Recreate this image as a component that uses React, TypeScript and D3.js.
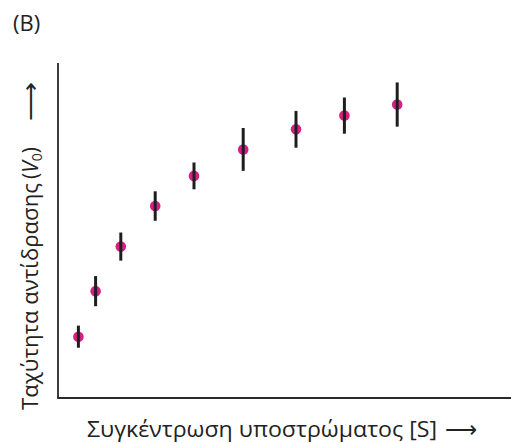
import React from "react";
import * as d3 from "d3";

const substrate = [0.51, 0.94, 1.57, 2.43, 3.4, 4.63, 5.95, 7.16, 8.48];
const velocity = [1.83, 3.19, 4.52, 5.73, 6.63, 7.42, 8.02, 8.43, 8.76];
const errors = [0.33, 0.45, 0.42, 0.44, 0.4, 0.64, 0.55, 0.54, 0.66];

const panelLabel = "(B)";
const xLabel = "Συγκέντρωση υποστρώματος [S]";
const yLabel = "Ταχύτητα αντίδρασης";
const yVarOpen = "(";
const yVar = "V";
const yVarSub = "0";
const yVarClose = ")";
const arrow = "⟶";

const W = 511;
const H = 443;
const left = 58;
const bottom = 398;
const top = 63;
const right = 511;

export default function App() {
  const x = d3.scaleLinear().domain([0, 1]).range([left, left + 40]);
  const y = d3.scaleLinear().domain([0, 10]).range([bottom, top]);
  const font = "'Open Sans', 'Noto Sans', sans-serif";
  const fs = 21;
  const data = substrate.map((s, i) => ({ s, v: velocity[i], e: errors[i] }));
  return (
    <svg
      width={W}
      height={H}
      style={{ position: "absolute", left: 0, top: 0, background: "#fff" }}
    >
      <text x={13} y={31} fontFamily={font} fontSize={22} fill="#222">
        {panelLabel}
      </text>
      <path
        d={`M${left},${top} V${bottom} H${right}`}
        fill="none"
        stroke="#2a2a2a"
        strokeWidth={1.8}
      />
      {data.map((d, i) => (
        <g key={i}>
          <circle cx={x(d.s)} cy={y(d.v)} r={5.3} fill="#d42083" />
          <line
            x1={x(d.s)}
            x2={x(d.s)}
            y1={y(d.v - d.e)}
            y2={y(d.v + d.e)}
            stroke="#1e1e1e"
            strokeWidth={3}
          />
        </g>
      ))}
      <text
        x={87}
        y={437}
        fontFamily={font}
        fontSize={fs}
        fill="#222"
        textLength={350}
        lengthAdjust="spacingAndGlyphs"
      >
        {xLabel}
      </text>
      <text
        x={445}
        y={437}
        fontFamily={font}
        fontSize={fs}
        fill="#222"
        textLength={32}
        lengthAdjust="spacingAndGlyphs"
      >
        {arrow}
      </text>
      <g transform="translate(38,0) rotate(-90)">
        <text
          x={-410}
          y={0}
          fontFamily={font}
          fontSize={fs}
          fill="#222"
          textLength={227}
          lengthAdjust="spacingAndGlyphs"
        >
          {yLabel}
        </text>
        <text x={-179} y={0} fontFamily={font} fontSize={fs} fill="#222">
          {yVarOpen}
          <tspan fontStyle="italic">{yVar}</tspan>
          <tspan dy={4} fontSize={14}>{yVarSub}</tspan>
          <tspan dy={-4}>{yVarClose}</tspan>
        </text>
        <text
          x={-121}
          y={0}
          fontFamily={font}
          fontSize={fs}
          fill="#222"
          textLength={39}
          lengthAdjust="spacingAndGlyphs"
        >
          {arrow}
        </text>
      </g>
    </svg>
  );
}
